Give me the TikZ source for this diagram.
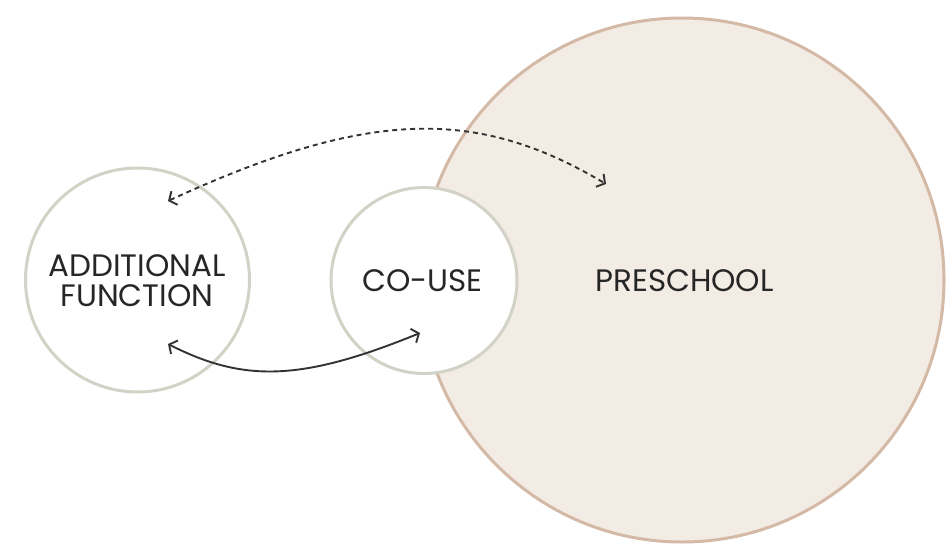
\documentclass[tikz,border=0pt]{standalone}
\usepackage{fontspec}
\setmainfont{Poppins}
\usetikzlibrary{arrows.meta}
\definecolor{ringgray}{HTML}{D2D3C6}
\definecolor{ringtan}{HTML}{D3B9A6}
\definecolor{filltan}{HTML}{F3ECE5}
\definecolor{inkdark}{HTML}{262626}
\definecolor{arrowdark}{HTML}{333333}
\tikzset{
  bigring/.style={circle, draw=ringtan, fill=filltan, line width=3pt, minimum size=524pt, inner sep=0pt},
  smallring/.style={circle, draw=ringgray, fill=white, line width=3pt, inner sep=0pt},
  lbl/.style={text=inkdark, font=\fontsize{31}{30}\selectfont, align=center, inner sep=0pt},
  linkarrow/.style={draw=arrowdark, line width=1.9pt, {Straight Barb[length=6pt,width=15pt]}-{Straight Barb[length=6pt,width=15pt]}},
  dashpat/.style={dash pattern=on 5pt off 4pt}
}
\begin{document}
\begin{tikzpicture}[x=1pt,y=-1pt]
\useasboundingbox (0,0) rectangle (946,546);
\node[bigring] (pre) at (682,280) {};
\node[smallring, minimum size=186pt] (co) at (424,280.5) {};
\node[smallring, minimum size=224pt] (af) at (137.5,280) {};
\node[lbl] (pretext) at (684.5,281) {PRESCHOOL};
\node[lbl] (cotext) at (422.5,281) {CO-USE};
\node[lbl] (aftext) at (137,281) {ADDITIONAL\\FUNCTION};
\coordinate (dA) at (168,201);
\coordinate (dB) at (606,184);
\coordinate (sA) at (168,344);
\coordinate (sB) at (420,333);
\draw[linkarrow, dashpat] (dA) .. controls (370,108) and (478,108) .. (dB);
\draw[linkarrow] (sA) .. controls (243,382) and (300,382) .. (sB);
\end{tikzpicture}
\end{document}
